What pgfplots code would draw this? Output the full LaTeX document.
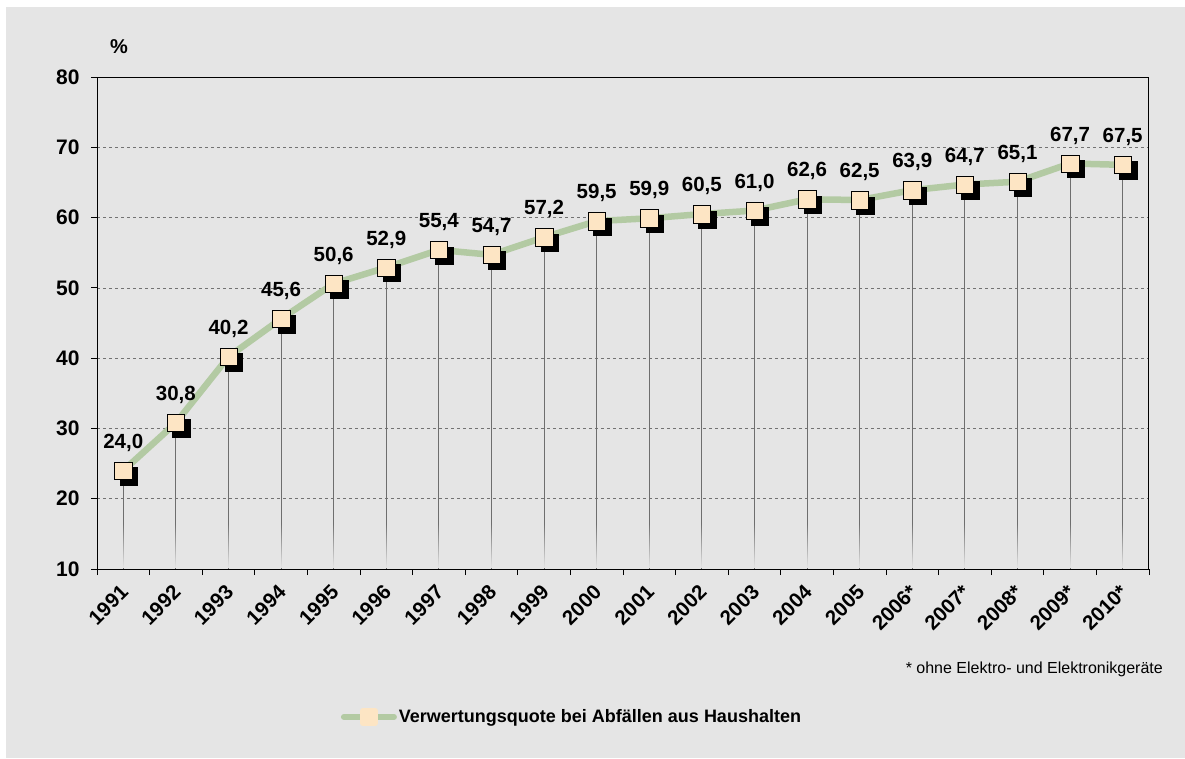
\documentclass[border=0pt]{standalone}
\usepackage{fontspec}
\setmainfont{Liberation Sans}
\usepackage{pgfplots}
\usepackage{pgfplotstable}
\usetikzlibrary{fadings}
\pgfplotsset{compat=1.18}
\definecolor{bg}{RGB}{229,229,229}
\definecolor{lgreen}{RGB}{179,202,163}
\definecolor{beige}{RGB}{253,229,196}
\definecolor{dropgray}{RGB}{110,110,110}
\definecolor{gridgray}{RGB}{115,115,115}
\pgfplotstableread{
x y lab
0 24.0 24,0
1 30.8 30,8
2 40.2 40,2
3 45.6 45,6
4 50.6 50,6
5 52.9 52,9
6 55.4 55,4
7 54.7 54,7
8 57.2 57,2
9 59.5 59,5
10 59.9 59,9
11 60.5 60,5
12 61.0 61,0
13 62.6 62,6
14 62.5 62,5
15 63.9 63,9
16 64.7 64,7
17 65.1 65,1
18 67.7 67,7
19 67.5 67,5
}\datatable
\begin{document}
\begin{tikzpicture}
\fill[white] (0,0) rectangle (1185pt,758pt);
\fill[bg] (6pt,0) rectangle (1185pt,751pt);
\node[font=\fontsize{20}{22}\selectfont\bfseries] at (119pt,711pt) {\%};
\node[font=\fontsize{16}{18}\selectfont, anchor=east, inner sep=0pt] at (1163pt,89pt) {* ohne Elektro- und Elektronikgeräte};
\begin{axis}[
  at={(97pt,189pt)}, anchor=south west,
  scale only axis, width=1052pt, height=492pt,
  xmin=-0.5, xmax=19.5, ymin=10, ymax=80,
  ytick={10,20,...,80},
  xtick={-0.5,0.5,...,19.5}, xticklabels={},
  extra x ticks={0,1,...,19},
  extra x tick labels={1991,1992,1993,1994,1995,1996,1997,1998,1999,2000,2001,2002,2003,2004,2005,2006*,2007*,2008*,2009*,2010*},
  extra x tick style={major tick length=0pt},
  xtick pos=lower, ytick pos=left,
  tick align=outside, major tick length=6pt,
  tick style={black, line width=0.8pt},
  ymajorgrids, grid style={gridgray, line width=0.6pt, dash pattern=on 3pt off 3pt},
  axis line style={line width=1pt},
  /pgf/number format/assume math mode=true,
  yticklabel style={font=\fontsize{21}{23}\selectfont\bfseries, xshift=-8pt},
  xticklabel style={font=\fontsize{20.5}{22}\selectfont\bfseries, xshift=-4pt, yshift=-13pt, rotate=45, anchor=north east, inner sep=1pt},
  legend style={draw=none, fill=none, at={(0.4515,-0.3008)}, anchor=center,
    font=\fontsize{18}{20}\selectfont\bfseries, inner sep=0pt},
]
\addplot[lgreen, line width=6.5pt, line join=round,
  legend image code/.code={
    \draw[lgreen, line width=6pt, line cap=round] (0pt,0pt) -- (50pt,0pt);
    \fill[beige] (19pt,-6pt) rectangle (31pt,6pt);}]
  table[x=x,y=y]{\datatable};
\addlegendentry{Verwertungsquote bei Abfällen aus Haushalten}
\addplot[forget plot, only marks, mark=square*, mark size=8.7pt,
  mark options={fill=black, draw=none, xshift=5.5pt, yshift=-5.5pt}]
  table[x=x,y=y]{\datatable};
\addplot[forget plot, only marks, mark=square*, mark size=8.7pt,
  mark options={fill=beige, draw=none},
  nodes near coords, point meta=explicit symbolic,
  every node near coord/.append style={font=\fontsize{20.5}{22}\selectfont\bfseries, anchor=south, inner sep=0pt, yshift=19pt, black}]
  table[x=x,y=y,meta=lab]{\datatable};
\addplot[forget plot, ycomb, dropgray, line width=0.8pt]
  table[x=x,y=y]{\datatable};
\fill[bg, path fading=north] (axis cs:-0.45,10.15) rectangle (axis cs:19.45,16.5);
\end{axis}
\end{tikzpicture}
\end{document}
